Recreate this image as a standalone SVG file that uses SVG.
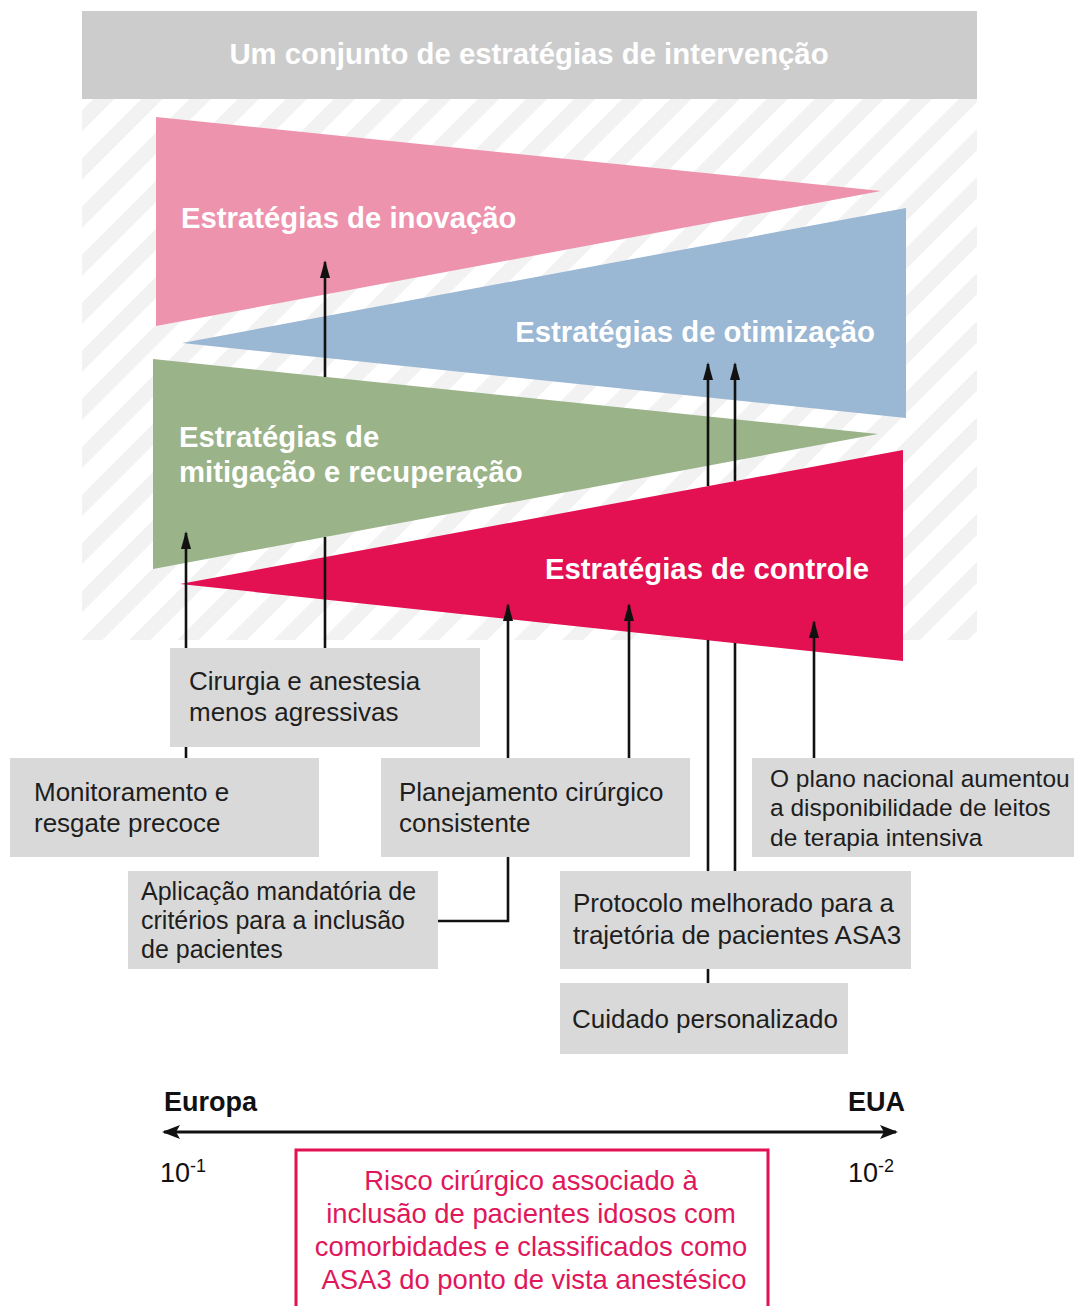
<svg xmlns="http://www.w3.org/2000/svg" width="1074" height="1306" viewBox="0 0 1074 1306">
<style>
.bold{font-family:"Liberation Sans",Arial,sans-serif;font-weight:bold;fill:#fff;font-size:29.3px}
.box{fill:#d9d9d9}
.bt{font-family:"Liberation Sans",Arial,sans-serif;font-size:26px;fill:#1e1e1e}
.ln{stroke:#111;stroke-width:2.6;fill:none}
.ax{font-family:"Liberation Sans",Arial,sans-serif;font-size:27px;fill:#111}
.red{font-family:"Liberation Sans",Arial,sans-serif;font-size:27.4px;fill:#e0175a;text-anchor:middle}
</style>
<defs>
<pattern id="hatch" patternUnits="userSpaceOnUse" width="34" height="34" patternTransform="rotate(45)">
<rect width="34" height="34" fill="#fff"/>
<rect width="15" height="34" fill="#f2f2f2"/>
</pattern>
<marker id="ah" viewBox="0 0 18 10" refX="16" refY="5" markerWidth="18" markerHeight="10" markerUnits="userSpaceOnUse" orient="auto">
<path d="M0,0 L18,5 L0,10 z" fill="#111"/>
</marker>
<marker id="axh" viewBox="0 0 18 14" refX="16" refY="7" markerWidth="18" markerHeight="14" markerUnits="userSpaceOnUse" orient="auto-start-reverse">
<path d="M0,0 L18,7 L0,14 L4,7 z" fill="#111"/>
</marker>
</defs>
<rect width="1074" height="1306" fill="#fff"/>
<g id="header">
<rect x="82" y="11" width="895" height="88" fill="#cccccc"/>
<text class="bold" x="529" y="64" text-anchor="middle">Um conjunto de estratégias de intervenção</text>
</g>
<rect id="hatch-area" x="82" y="99" width="895" height="541" fill="url(#hatch)"/>
<g id="inovacao">
<polygon points="156,117 881,191 156,326" fill="#ee93ae"/>
<text class="bold" x="181" y="228">Estratégias de inovação</text>
</g>
<g id="otimizacao">
<polygon points="182,343 906,208 906,418" fill="#9ab7d3"/>
<text class="bold" x="875" y="342" text-anchor="end">Estratégias de otimização</text>
</g>
<g id="mitigacao">
<polygon points="153,359 878,434 153,569" fill="#9ab388"/>
<text class="bold" x="179" y="447">Estratégias de</text>
<text class="bold" x="179" y="482">mitigação e recuperação</text>
</g>
<g id="controle">
<polygon points="180,584 903,450 903,661" fill="#e31052"/>
<text class="bold" x="869" y="579" text-anchor="end">Estratégias de controle</text>
</g>
<g id="connectors">
<path class="ln" d="M325,377 V262" marker-end="url(#ah)"/>
<path class="ln" d="M325,648 V537"/>
<path class="ln" d="M186,758 V533" marker-end="url(#ah)"/>
<path class="ln" d="M438,921 H508 V605" marker-end="url(#ah)"/>
<path class="ln" d="M629,758 V605" marker-end="url(#ah)"/>
<path class="ln" d="M814,758 V622" marker-end="url(#ah)"/>
<path class="ln" d="M708,486 V364" marker-end="url(#ah)"/>
<path class="ln" d="M735,481 V364" marker-end="url(#ah)"/>
<path class="ln" d="M708,983 V640"/>
<path class="ln" d="M735,871 V643"/>
<path d="M164,1132 H896" stroke="#111" stroke-width="3" marker-start="url(#axh)" marker-end="url(#axh)"/>
</g>
<g id="cirurgia">
<rect class="box" x="170" y="648" width="310" height="99"/>
<text class="bt" x="189" y="690">Cirurgia e anestesia</text>
<text class="bt" x="189" y="721">menos agressivas</text>
</g>
<g id="monitoramento">
<rect class="box" x="10" y="758" width="309" height="99"/>
<text class="bt" x="34" y="801">Monitoramento e</text>
<text class="bt" x="34" y="832">resgate precoce</text>
</g>
<g id="planejamento">
<rect class="box" x="381" y="758" width="309" height="99"/>
<text class="bt" x="399" y="801">Planejamento cirúrgico</text>
<text class="bt" x="399" y="832">consistente</text>
</g>
<g id="plano-nacional">
<rect class="box" x="752" y="758" width="322" height="99"/>
<text class="bt" x="770" y="787" style="font-size:24.5px">O plano nacional aumentou</text>
<text class="bt" x="770" y="816" style="font-size:24.5px">a disponibilidade de leitos</text>
<text class="bt" x="770" y="846" style="font-size:24.5px">de terapia intensiva</text>
</g>
<g id="aplicacao">
<rect class="box" x="128" y="871" width="310" height="98"/>
<text class="bt" x="141" y="900" style="font-size:25px">Aplicação mandatória de</text>
<text class="bt" x="141" y="929" style="font-size:25px">critérios para a inclusão</text>
<text class="bt" x="141" y="958" style="font-size:25px">de pacientes</text>
</g>
<g id="protocolo">
<rect class="box" x="560" y="871" width="351" height="98"/>
<text class="bt" x="573" y="912">Protocolo melhorado para a</text>
<text class="bt" x="573" y="944">trajetória de pacientes ASA3</text>
</g>
<g id="cuidado">
<rect class="box" x="560" y="983" width="288" height="71"/>
<text class="bt" x="572" y="1028">Cuidado personalizado</text>
</g>
<g id="axis">
<text class="ax" x="164" y="1111" font-weight="bold">Europa</text>
<text class="ax" x="905" y="1111" font-weight="bold" text-anchor="end">EUA</text>
<text class="ax" x="160" y="1182">10<tspan font-size="18" dy="-10">-1</tspan></text>
<text class="ax" x="848" y="1182">10<tspan font-size="18" dy="-10">-2</tspan></text>
</g>
<g id="risco">
<rect x="296" y="1150" width="472" height="170" fill="none" stroke="#e31052" stroke-width="3"/>
<text class="red" x="531" y="1190">Risco cirúrgico associado à</text>
<text class="red" x="531" y="1223">inclusão de pacientes idosos com</text>
<text class="red" x="531" y="1256">comorbidades e classificados como</text>
<text class="red" x="534" y="1289">ASA3 do ponto de vista anestésico</text>
</g>
</svg>
